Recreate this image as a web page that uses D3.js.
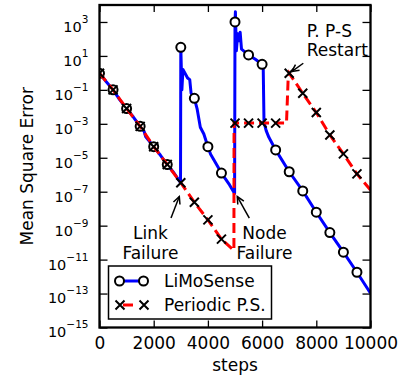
<!DOCTYPE html>
<html><head><meta charset="utf-8">
<script src="https://cdn.jsdelivr.net/npm/d3@7"></script>
<style>
html,body{margin:0;padding:0;background:#fff;}
svg{display:block;font-family:"DejaVu Sans",sans-serif;}
</style>
</head><body>
<svg id="chart" width="410" height="379"></svg>
<script>
// LiMoSense trace: step and mean square error
const limoSteps = [0,250,500,750,1000,1250,1500,1650,1700,2000,2250,2500,2750,2990,
  3000,3040,3080,3150,3250,3330,3380,3500,3600,3720,3850,4000,4100,4250,4500,4800,4985,
  5000,5015,5050,5100,5150,5190,5240,5500,5750,6000,6040,6070,6150,6250,6500,
  7000,7500,8000,8500,9000,9500,10000];
const limoMse = [0.95,0.30,0.10,0.026,7.9e-3,2.5e-3,7.1e-4,3.5e-4,1.8e-4,4.5e-5,1.4e-5,4.0e-6,1.26e-6,3.4e-7,
  32,0.1,1.6,1.0,0.5,0.4,0.063,0.032,7.9e-3,6.3e-4,2.5e-4,4.5e-5,1.6e-5,6.3e-6,1.26e-6,2.5e-7,7.9e-8,
  1000,4000,20,200,79,250,25,11.5,6.3,3.2,2.8,1.26e-3,4.0e-4,1.6e-4,2.9e-5,
  1.5e-6,1.12e-7,6.2e-9,3.9e-10,2.75e-11,1.8e-12,1.05e-13];

// Periodic Push-Sum trace
const psSteps = [0,500,1000,1500,2000,2500,3000,3500,4000,4500,4960,4965,
  5000,5500,6000,6500,6900,6960,7000,7500,8000,8500,9000,9500,10000];
const psMse = [0.95,0.1,7.9e-3,7.1e-4,4.5e-5,4.0e-6,3.4e-7,2.4e-8,2.2e-9,1.6e-10,3.5e-11,1.1e-3,
  1.1e-3,1.1e-3,1.1e-3,1.1e-3,1.1e-3,0.4,0.95,0.063,4.6e-3,2.2e-4,1.7e-5,1.12e-6,1.26e-7];

const seriesNames = ["LiMoSense", "Periodic P.S."];
const markerEvery = 500;
const xTicks = [0,2000,4000,6000,8000,10000];
const yTickExps = [3,1,-1,-3,-5,-7,-9,-11,-13,-15];

// Annotations: arrow tip / tail in data units, text lines anchored in data units
const notes = [
  {lines:["Link","Failure"], anchor:"middle", tx:1880, ty:1.6e-10, tip:[2945,5.2e-8], tail:[2638,2.8e-9]},
  {lines:["Node","Failure"], anchor:"middle", tx:6088, ty:1.6e-10, tip:[5085,5.2e-8], tail:[5528,2.8e-9]},
  {lines:["P. P-S","Restart"], anchor:"start", tx:7646, ty:135, tip:[7092,1.19], tail:[7520,3.7]}
];

const W = 410, H = 379;
const m = {left:99.5, top:5, right:370.5, bottom:327.5};
const FONT = "DejaVu Sans";
const fs = 17;      // labels, legend, annotations
const fsTick = 14.5; // 10^n tick labels

const x = d3.scaleLinear().domain([0,10000]).range([m.left, m.right]);
const y = d3.scaleLog().domain([1e-15,1e4]).range([m.bottom, m.top]);

const svg = d3.select("#chart");
svg.append("rect").attr("width",W).attr("height",H).attr("fill","#fff");
svg.append("clipPath").attr("id","plotArea").append("rect")
  .attr("x",m.left).attr("y",m.top).attr("width",m.right-m.left).attr("height",m.bottom-m.top);

function tidy(g, size){
  g.attr("font-family",FONT).attr("font-size",size);
  g.select(".domain").remove();
  g.selectAll(".tick line").attr("stroke","#000").attr("stroke-width",1.3);
  g.selectAll(".tick text").attr("fill","#000");
}

const yVals = yTickExps.map(e => Math.pow(10,e));

// left axis with 10^n labels
const gl = svg.append("g").attr("transform",`translate(${m.left},0)`)
  .call(d3.axisLeft(y).tickValues(yVals).tickSizeInner(-8).tickSizeOuter(0).tickPadding(11).tickFormat(""));
tidy(gl, fsTick);
gl.selectAll(".tick text").each(function(d){
  const t = d3.select(this);
  t.attr("dy",null).attr("y",9.4);
  const e = Math.round(Math.log10(d));
  t.append("tspan").text("10");
  t.append("tspan").attr("font-size",10.5).attr("dy",-9).text(e < 0 ? "\u2212" + (-e) : String(e));
});

// right axis ticks
const gr = svg.append("g").attr("transform",`translate(${m.right},0)`)
  .call(d3.axisRight(y).tickValues(yVals).tickSizeInner(-8).tickSizeOuter(0).tickFormat(""));
tidy(gr, fsTick);

// bottom axis
const gb = svg.append("g").attr("transform",`translate(0,${m.bottom})`)
  .call(d3.axisBottom(x).tickValues(xTicks).tickSizeInner(-7).tickSizeOuter(0).tickPadding(9.4).tickFormat(d3.format("d")));
tidy(gb, fs);

// top axis ticks
const gt = svg.append("g").attr("transform",`translate(0,${m.top})`)
  .call(d3.axisTop(x).tickValues(xTicks).tickSizeInner(-7).tickSizeOuter(0).tickFormat(""));
tidy(gt, fs);

// axis titles
svg.append("text").attr("x",(m.left+m.right)/2).attr("y",371)
  .attr("text-anchor","middle").attr("font-family",FONT).attr("font-size",fs).text("steps");
svg.append("text").attr("transform",`translate(32.5,${(m.top+m.bottom)/2}) rotate(-90)`)
  .attr("text-anchor","middle").attr("font-family",FONT).attr("font-size",fs).text("Mean Square Error");

// series
const line = d3.line().x(d => x(d[0])).y(d => y(d[1]));
const limo = d3.zip(limoSteps, limoMse);
const ps = d3.zip(psSteps, psMse);
const onMarker = d => d[0] % markerEvery === 0 && d[0] < 10000;
const xPath = "M-4.5,-4.5L4.5,4.5M-4.5,4.5L4.5,-4.5";

const plot = svg.append("g").attr("clip-path","url(#plotArea)");
plot.append("path").datum(limo).attr("d",line)
  .attr("fill","none").attr("stroke","#0000ff").attr("stroke-width",3).attr("stroke-linejoin","round");
plot.selectAll("circle.limo").data(limo.filter(onMarker)).join("circle").attr("class","limo")
  .attr("cx",d => x(d[0])).attr("cy",d => y(d[1])).attr("r",4.5)
  .attr("fill","#fff").attr("stroke","#000").attr("stroke-width",2);
plot.append("path").datum(ps).attr("d",line)
  .attr("fill","none").attr("stroke","#ff0000").attr("stroke-width",3).attr("stroke-dasharray","10,5");
plot.selectAll("path.ps").data(ps.filter(onMarker)).join("path").attr("class","ps")
  .attr("transform",d => `translate(${x(d[0])},${y(d[1])})`).attr("d",xPath)
  .attr("fill","none").attr("stroke","#000").attr("stroke-width",2);

// annotations
function arrow(g, x0, y0, x1, y1){
  g.append("line").attr("x1",x0).attr("y1",y0).attr("x2",x1).attr("y2",y1)
    .attr("stroke","#000").attr("stroke-width",1.5);
  const a = Math.atan2(y1-y0, x1-x0), L = 8, s = 0.45;
  const p = [[x1 - L*Math.cos(a-s), y1 - L*Math.sin(a-s)], [x1,y1], [x1 - L*Math.cos(a+s), y1 - L*Math.sin(a+s)]];
  g.append("path").attr("d","M"+p.map(q => q.join(",")).join("L"))
    .attr("fill","none").attr("stroke","#000").attr("stroke-width",1.5).attr("stroke-linejoin","miter");
}
const gn = svg.append("g");
notes.forEach(n => {
  const t = gn.append("text").attr("font-family",FONT).attr("font-size",fs)
    .attr("text-anchor",n.anchor).attr("x",x(n.tx)).attr("y",y(n.ty));
  n.lines.forEach((s,i) => t.append("tspan").attr("x",x(n.tx)).attr("dy",i ? 19.5 : 0).text(s));
  arrow(gn, x(n.tail[0]), y(n.tail[1]), x(n.tip[0]), y(n.tip[1]));
});

// frame
svg.append("rect").attr("x",m.left).attr("y",m.top).attr("width",m.right-m.left).attr("height",m.bottom-m.top)
  .attr("fill","none").attr("stroke","#000").attr("stroke-width",2.3);

// legend
const lg = svg.append("g");
lg.append("rect").attr("x",108.5).attr("y",266).attr("width",163).attr("height",53)
  .attr("fill","#fff").attr("stroke","#000").attr("stroke-width",1.5);
const rows = [281, 305];
lg.append("line").attr("x1",119.5).attr("x2",143.5).attr("y1",rows[0]).attr("y2",rows[0])
  .attr("stroke","#0000ff").attr("stroke-width",3);
[119.5,143.5].forEach(cx => lg.append("circle").attr("cx",cx).attr("cy",rows[0]).attr("r",4.5)
  .attr("fill","#fff").attr("stroke","#000").attr("stroke-width",2));
lg.append("line").attr("x1",123).attr("x2",133).attr("y1",rows[1]).attr("y2",rows[1])
  .attr("stroke","#ff0000").attr("stroke-width",3);
[120,144].forEach(cx => lg.append("path").attr("transform",`translate(${cx},${rows[1]})`).attr("d",xPath)
  .attr("fill","none").attr("stroke","#000").attr("stroke-width",2));
seriesNames.forEach((s,i) => lg.append("text").attr("x",164).attr("y",rows[i]+5.5)
  .attr("font-family",FONT).attr("font-size",fs).text(s));
</script>
</body></html>
